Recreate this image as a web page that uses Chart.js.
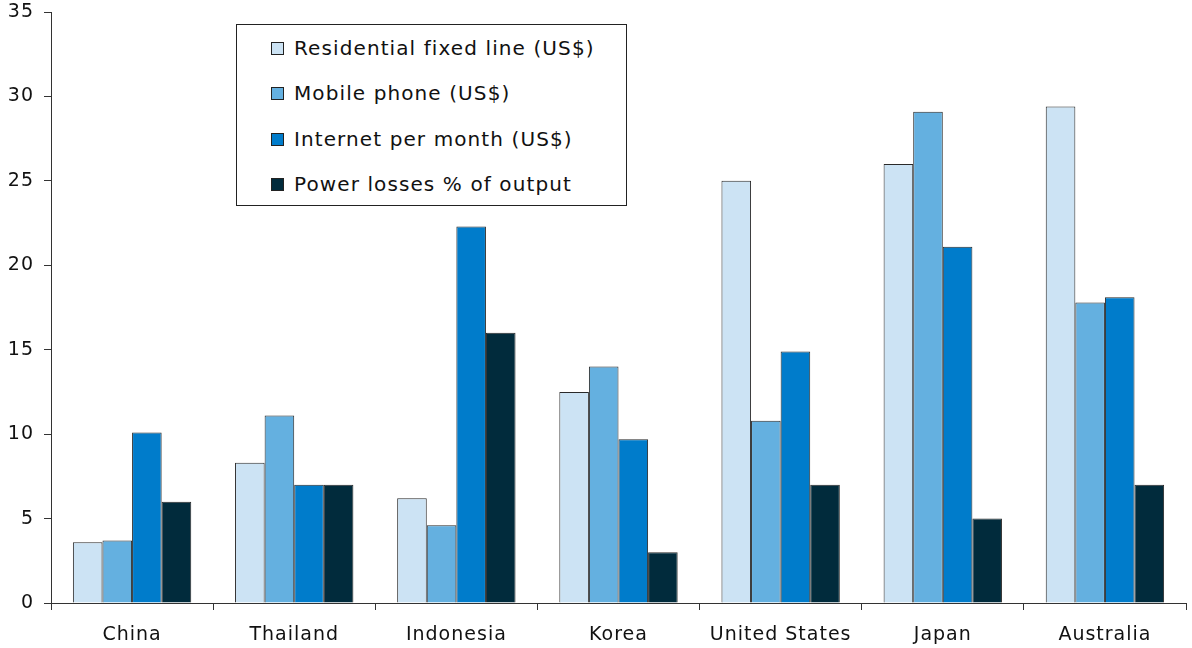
<!DOCTYPE html>
<html lang="en">
<head>
    <meta charset="UTF-8">
    <title>Telecom and power costs</title>
    <script src="https://cdn.jsdelivr.net/npm/chart.js"></script>
    <style>
        html, body { margin: 0; padding: 0; background: #fff; }
        #wrap { position: relative; width: 1192px; height: 648px; }
        #legend {
            position: absolute; left: 236px; top: 24px; width: 389px; height: 180px;
            border: 1px solid #222; background: #fff;
            font-family: "DejaVu Sans", Verdana, sans-serif; font-size: 20px; letter-spacing: 1.1px; color: #111;
        }
        #legend .item { position: absolute; left: 34px; display: flex; align-items: center; }
        #legend .sw { width: 11px; height: 11px; border: 1px solid #222; margin-right: 10px; }
    </style>
</head>
<body>
<div id="wrap">
    <canvas id="chart" width="1192" height="648"></canvas>
    <div id="legend"></div>
</div>
<script>
    // data
    const countries = ['China', 'Thailand', 'Indonesia', 'Korea', 'United States', 'Japan', 'Australia'];
    const fixedLine = [3.6, 8.3, 6.2, 12.5, 25.0, 26.0, 29.4];
    const mobile = [3.7, 11.1, 4.6, 14.0, 10.8, 29.1, 17.8];
    const internet = [10.1, 7.0, 22.3, 9.7, 14.9, 21.1, 18.1];
    const powerLoss = [6.0, 7.0, 16.0, 3.0, 7.0, 5.0, 7.0];
    const yTicks = [0, 5, 10, 15, 20, 25, 30, 35];

    const series = [
        { label: 'Residential fixed line (US$)', data: fixedLine, color: '#cce3f4' },
        { label: 'Mobile phone (US$)', data: mobile, color: '#64b0e0' },
        { label: 'Internet per month (US$)', data: internet, color: '#007ccb' },
        { label: 'Power losses % of output', data: powerLoss, color: '#012b3c' }
    ];

    const font = { family: '"DejaVu Sans", Verdana, sans-serif', size: 19 };

    // wider lettering, closer to the Verdana look of the original
    const spacing = {
        id: 'spacing',
        beforeDraw: c => { c.ctx.letterSpacing = '1px'; }
    };

    new Chart(document.getElementById('chart'), {
        type: 'bar',
        data: {
            labels: countries,
            datasets: series.map(s => ({
                label: s.label,
                data: s.data,
                backgroundColor: s.color,
                borderColor: '#2a2a2a',
                borderWidth: 1,
                categoryPercentage: 0.73,
                barPercentage: 1.0
            }))
        },
        plugins: [spacing],
        options: {
            responsive: false,
            animation: false,
            layout: { padding: { top: 12, right: 6, left: 0, bottom: 0 } },
            plugins: { legend: { display: false }, tooltip: { enabled: false } },
            scales: {
                x: {
                    grid: { drawOnChartArea: false, color: '#333', tickLength: 7 },
                    border: { color: '#333', width: 1 },
                    ticks: { font: font, color: '#111', padding: 14, maxRotation: 0 },
                    afterFit: s => { s.height = 45; s.paddingLeft = 0; s.paddingRight = 0; }
                },
                y: {
                    min: 0, max: 35,
                    afterBuildTicks: s => { s.ticks = yTicks.map(v => ({ value: v })); },
                    grid: { drawOnChartArea: false, color: '#333', tickLength: 7 },
                    border: { color: '#333', width: 1 },
                    ticks: { font: font, color: '#111', padding: 10 },
                    afterFit: s => { s.width = 51; s.paddingTop = 0; s.paddingBottom = 0; }
                }
            }
        }
    });

    // legend box as html, built from the same series
    const legend = document.getElementById('legend');
    const rowTops = [11, 56, 102, 147];
    series.forEach((s, i) => {
        const row = document.createElement('div');
        row.className = 'item';
        row.style.top = rowTops[i] + 'px';
        row.innerHTML = '<span class="sw" style="background:' + s.color + '"></span><span>' + s.label + '</span>';
        legend.appendChild(row);
    });
</script>
</body>
</html>
